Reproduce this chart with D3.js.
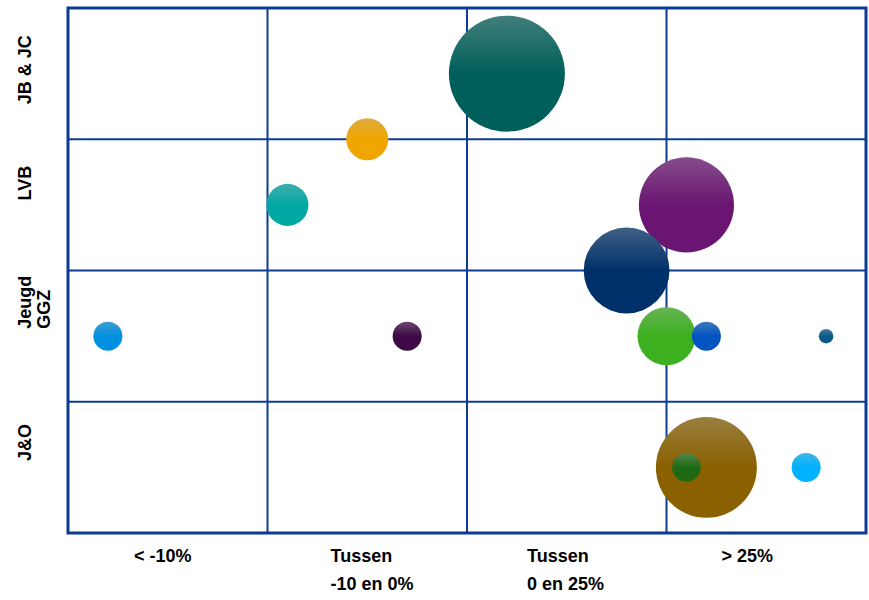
<!DOCTYPE html>
<html>
<head>
<meta charset="utf-8">
<script src="https://cdn.jsdelivr.net/npm/d3@7/dist/d3.min.js"></script>
<style>
  html, body { margin: 0; padding: 0; background: #ffffff; }
  svg { display: block; }
  text { font-family: "Liberation Sans", Arial, sans-serif; font-weight: bold; fill: #000; }
</style>
</head>
<body>
<svg id="chart" width="869" height="600"></svg>
<script>
// ---- data ----
const colLabels = [["< -10%"], ["Tussen", "-10 en 0%"], ["Tussen", "0 en 25%"], ["> 25%"]];
const rowLabels = [["J&O"], ["Jeugd", "GGZ"], ["LVB"], ["JB & JC"]]; // bottom to top
const bubbleNames = ["A", "B", "C", "D", "E", "F", "G", "H", "I", "J", "K", "L", "M"];
const xValues = [2.20, 1.50, 1.10, 3.10, 2.80, 0.20, 1.70, 3.00, 3.20, 3.80, 3.20, 3.10, 3.70];
const yValues = [3.50, 3.00, 2.50, 2.50, 2.00, 1.50, 1.50, 1.50, 1.50, 1.50, 0.50, 0.50, 0.50];
const sizes   = [64, 8.4, 8.4, 43, 35, 4, 4, 16, 4, 1, 48.5, 3.9, 4];
const colors  = ["#005F5A", "#F0A500", "#00A8A3", "#6A1572", "#00306A", "#0090E0", "#3E0A45",
                 "#3CB01E", "#0055C0", "#0A5A8A", "#8A6000", "#1E6A14", "#00B2FF"];
// draw order (larger first, smaller on top)
const drawOrder = [0, 10, 3, 4, 7, 1, 2, 5, 6, 8, 9, 11, 12];

// ---- layout ----
const svg = d3.select("#chart");
const L = 68, R = 866, T = 8, B = 533;
const x = d3.scaleLinear().domain([0, 4]).range([L, R]);
const y = d3.scaleLinear().domain([0, 4]).range([B, T]);
const r = d3.scaleSqrt().domain([0, 64]).range([0, 58]);
const gridColor = "#0B3C92";

// gradients
const defs = svg.append("defs");
colors.forEach((c, i) => {
  const g = defs.append("linearGradient").attr("id", "g" + i)
    .attr("x1", 0).attr("y1", 0).attr("x2", 0).attr("y2", 1);
  g.append("stop").attr("offset", "0").attr("stop-color", d3.interpolateRgb(c, "#b8b8b8")(0.35));
  g.append("stop").attr("offset", "0.5").attr("stop-color", c);
  g.append("stop").attr("offset", "1").attr("stop-color", c);
});

// grid
const grid = svg.append("g");
d3.range(1, 4).forEach(v => {
  grid.append("line").attr("x1", x(v)).attr("x2", x(v)).attr("y1", T).attr("y2", B)
    .attr("stroke", gridColor).attr("stroke-width", 2);
  grid.append("line").attr("x1", L).attr("x2", R).attr("y1", y(v)).attr("y2", y(v))
    .attr("stroke", gridColor).attr("stroke-width", 2);
});

// bubbles
svg.append("g").selectAll("circle").data(drawOrder).join("circle")
  .attr("cx", i => x(xValues[i]))
  .attr("cy", i => y(yValues[i]))
  .attr("r", i => r(sizes[i]))
  .attr("fill", i => "url(#g" + i + ")");

// frame
svg.append("rect").attr("x", L).attr("y", T).attr("width", R - L).attr("height", B - T)
  .attr("fill", "none").attr("stroke", gridColor).attr("stroke-width", 3);

// x labels
const xOffsets = [66, 63, 60, 55];
colLabels.forEach((lines, i) => {
  const t = svg.append("text").attr("font-size", 18).attr("text-anchor", "start");
  lines.forEach((s, k) => {
    t.append("tspan").attr("x", x(i) + xOffsets[i]).attr("y", 562 + k * 28).text(s);
  });
});

// y labels (rotated)
const yOffsets = [72, 73, 70, 35];
rowLabels.forEach((lines, i) => {
  const yb = y(i) - yOffsets[i];
  lines.forEach((s, k) => {
    svg.append("text").attr("font-size", 18).attr("text-anchor", "start")
      .attr("transform", `translate(${31 + k * 19},${yb}) rotate(-90)`)
      .text(s);
  });
});
</script>
</body>
</html>
